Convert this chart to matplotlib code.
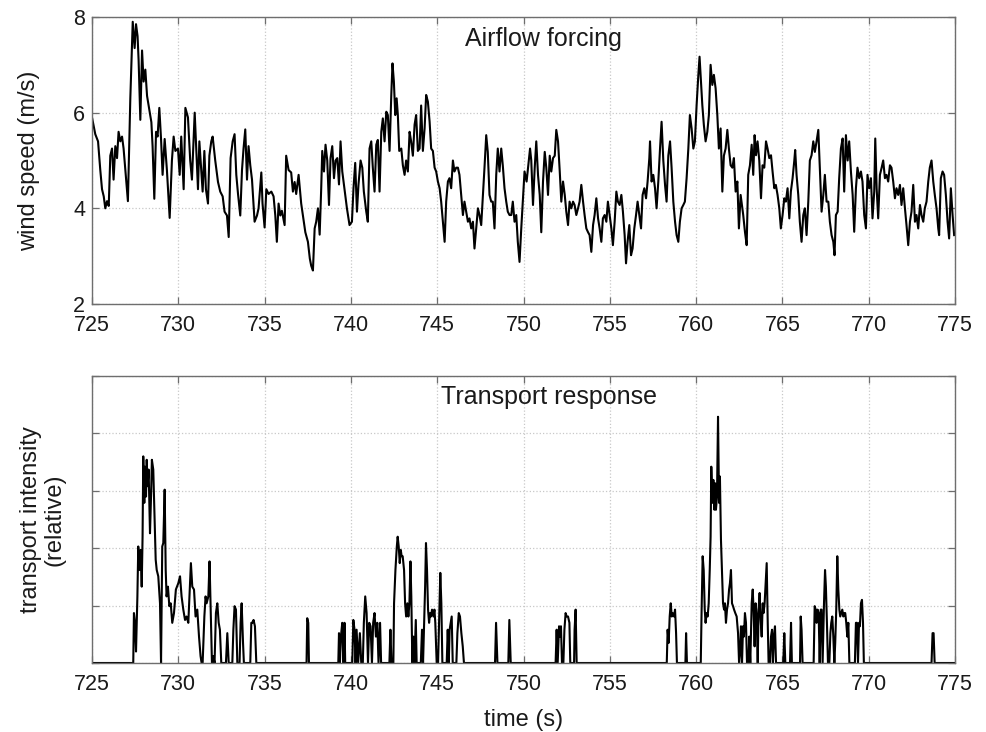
import matplotlib
matplotlib.use("Agg")
import matplotlib.pyplot as plt

plt.rcParams['font.family'] = ['Liberation Sans', 'DejaVu Sans']

# Wind speed record (time in s, speed in m/s)
wind_time = [
    725.00, 725.19, 725.35, 725.48, 725.58, 725.68, 725.77, 725.87, 725.97, 726.06,
    726.16, 726.25, 726.35, 726.45, 726.54, 726.64, 726.74, 726.83, 726.93, 727.08,
    727.22, 727.36, 727.47, 727.55, 727.64, 727.70, 727.80, 727.90, 727.99, 728.09,
    728.19, 728.28, 728.44, 728.51, 728.61, 728.71, 728.80, 728.90, 729.00, 729.09,
    729.21, 729.34, 729.50, 729.63, 729.73, 729.83, 729.98, 730.08, 730.17, 730.31,
    730.41, 730.56, 730.69, 730.79, 730.95, 731.04, 731.14, 731.22, 731.33, 731.41,
    731.51, 731.60, 731.72, 731.80, 731.91, 731.99, 732.14, 732.30, 732.43, 732.57,
    732.68, 732.82, 732.92, 733.03, 733.15, 733.26, 733.36, 733.46, 733.59, 733.69,
    733.78, 733.88, 733.98, 734.07, 734.17, 734.27, 734.42, 734.56, 734.65, 734.81,
    734.88, 735.00, 735.10, 735.23, 735.39, 735.52, 735.62, 735.71, 735.81, 735.91,
    736.00, 736.16, 736.25, 736.39, 736.54, 736.64, 736.74, 736.83, 736.97, 737.12,
    737.22, 737.36, 737.51, 737.62, 737.70, 737.80, 737.90, 737.99, 738.09, 738.19,
    738.28, 738.34, 738.44, 738.53, 738.63, 738.73, 738.82, 738.92, 739.02, 739.11,
    739.21, 739.31, 739.40, 739.50, 739.63, 739.77, 739.92, 740.06, 740.15, 740.25,
    740.35, 740.44, 740.56, 740.66, 740.75, 740.89, 740.98, 741.08, 741.18, 741.27,
    741.37, 741.47, 741.56, 741.66, 741.76, 741.85, 741.95, 742.05, 742.14, 742.24,
    742.34, 742.41, 742.49, 742.57, 742.65, 742.72, 742.80, 742.92, 743.01, 743.11,
    743.20, 743.30, 743.40, 743.49, 743.59, 743.69, 743.78, 743.88, 743.98, 744.07,
    744.17, 744.27, 744.36, 744.46, 744.56, 744.65, 744.75, 744.85, 744.94, 745.04,
    745.14, 745.23, 745.33, 745.43, 745.52, 745.62, 745.71, 745.81, 745.91, 746.00,
    746.10, 746.20, 746.29, 746.39, 746.49, 746.58, 746.68, 746.78, 746.87, 746.97,
    747.07, 747.16, 747.26, 747.36, 747.45, 747.55, 747.64, 747.74, 747.84, 747.93,
    748.03, 748.13, 748.22, 748.32, 748.42, 748.51, 748.61, 748.71, 748.80, 748.90,
    749.00, 749.09, 749.19, 749.29, 749.38, 749.48, 749.58, 749.67, 749.77, 749.87,
    749.96, 750.06, 750.18, 750.28, 750.38, 750.45, 750.55, 750.65, 750.74, 750.84,
    750.94, 751.03, 751.13, 751.23, 751.32, 751.42, 751.52, 751.61, 751.71, 751.81,
    751.90, 752.00, 752.10, 752.19, 752.29, 752.39, 752.48, 752.58, 752.67, 752.77,
    752.87, 752.96, 753.06, 753.16, 753.25, 753.35, 753.45, 753.54, 753.64, 753.74,
    753.83, 753.93, 754.03, 754.12, 754.22, 754.32, 754.41, 754.51, 754.60, 754.70,
    754.80, 754.89, 754.99, 755.09, 755.18, 755.28, 755.38, 755.47, 755.57, 755.67,
    755.76, 755.86, 755.94, 756.03, 756.13, 756.23, 756.32, 756.42, 756.52, 756.61,
    756.71, 756.81, 756.90, 757.00, 757.10, 757.19, 757.29, 757.33, 757.42, 757.52,
    757.62, 757.71, 757.81, 757.91, 758.00, 758.10, 758.20, 758.29, 758.39, 758.49,
    758.58, 758.68, 758.78, 758.87, 758.97, 759.06, 759.16, 759.26, 759.35, 759.45,
    759.55, 759.64, 759.74, 759.84, 759.93, 760.03, 760.13, 760.20, 760.28, 760.36,
    760.45, 760.55, 760.65, 760.74, 760.84, 760.94, 761.03, 761.13, 761.23, 761.32,
    761.42, 761.52, 761.61, 761.71, 761.81, 761.90, 762.00, 762.10, 762.19, 762.29,
    762.39, 762.48, 762.58, 762.68, 762.73, 762.83, 762.93, 763.02, 763.12, 763.22,
    763.31, 763.39, 763.47, 763.56, 763.66, 763.76, 763.85, 763.95, 764.05, 764.14,
    764.24, 764.34, 764.43, 764.53, 764.62, 764.72, 764.82, 764.91, 765.01, 765.11,
    765.20, 765.30, 765.40, 765.49, 765.59, 765.69, 765.74, 765.82, 765.92, 766.01,
    766.11, 766.21, 766.30, 766.40, 766.50, 766.59, 766.69, 766.79, 766.88, 766.98,
    767.08, 767.17, 767.27, 767.37, 767.46, 767.56, 767.66, 767.75, 767.85, 767.95,
    768.02, 768.10, 768.20, 768.29, 768.39, 768.49, 768.58, 768.68, 768.78, 768.87,
    768.97, 769.07, 769.16, 769.26, 769.35, 769.45, 769.55, 769.64, 769.74, 769.84,
    769.93, 770.03, 770.13, 770.22, 770.32, 770.38, 770.46, 770.55, 770.65, 770.75,
    770.84, 770.94, 771.03, 771.13, 771.23, 771.32, 771.42, 771.52, 771.61, 771.71,
    771.81, 771.90, 772.00, 772.10, 772.19, 772.29, 772.39, 772.48, 772.58, 772.68,
    772.77, 772.87, 772.97, 773.06, 773.16, 773.25, 773.35, 773.45, 773.54, 773.64,
    773.74, 773.83, 773.93, 774.03, 774.08, 774.18, 774.28, 774.37, 774.47, 774.57,
    774.66, 774.76, 774.86, 774.95,
]
wind_speed = [
    5.90, 5.55, 5.40, 4.80, 4.40, 4.25, 4.00, 4.15, 4.05, 5.10,
    5.25, 4.60, 5.30, 5.05, 5.60, 5.40, 5.50, 5.25, 4.80, 4.15,
    6.30, 7.90, 7.35, 7.85, 7.60, 7.10, 5.85, 7.30, 6.65, 6.90,
    6.35, 6.15, 5.80, 5.30, 4.20, 5.60, 5.50, 6.10, 5.45, 4.70,
    5.45, 4.80, 3.80, 5.00, 5.50, 5.20, 5.25, 4.70, 5.50, 4.40,
    6.10, 5.90, 5.00, 4.60, 6.00, 5.25, 4.40, 5.40, 4.80, 4.35,
    5.20, 4.40, 4.10, 5.10, 5.40, 5.50, 5.00, 4.55, 4.35, 4.25,
    3.93, 3.85, 3.40, 5.05, 5.40, 5.55, 4.70, 4.30, 3.85, 4.80,
    5.25, 5.65, 4.60, 5.30, 4.90, 4.60, 3.72, 3.85, 4.00, 4.75,
    4.10, 3.60, 4.40, 4.30, 4.35, 4.25, 3.85, 3.30, 4.10, 3.85,
    3.95, 3.65, 5.10, 4.80, 4.75, 4.35, 4.55, 4.30, 4.70, 4.10,
    3.85, 3.50, 3.30, 2.95, 2.80, 2.70, 3.58, 3.72, 4.00, 3.45,
    4.42, 5.20, 4.77, 5.33, 5.00, 4.07, 5.05, 5.30, 4.63, 5.00,
    5.05, 4.50, 5.40, 4.77, 4.40, 4.00, 3.65, 3.72, 4.42, 4.95,
    3.93, 4.50, 5.00, 4.85, 4.35, 3.93, 3.72, 5.25, 5.40, 4.85,
    4.35, 5.33, 5.43, 4.35, 5.60, 5.88, 5.40, 6.02, 5.95, 5.20,
    6.37, 7.03, 6.65, 5.95, 6.30, 5.95, 5.20, 5.25, 4.90, 4.70,
    5.00, 4.77, 5.60, 5.40, 5.10, 5.75, 5.95, 5.20, 5.25, 6.15,
    5.20, 5.67, 6.37, 6.23, 5.81, 5.25, 5.20, 4.85, 4.77, 4.56,
    4.42, 4.14, 3.72, 3.30, 4.14, 4.56, 4.63, 4.42, 5.00, 4.77,
    4.85, 4.85, 4.70, 4.28, 3.86, 4.14, 3.93, 3.72, 3.79, 3.58,
    3.72, 3.16, 3.58, 4.00, 3.86, 3.65, 4.20, 4.85, 5.53, 5.18,
    4.28, 4.14, 4.14, 3.58, 4.70, 5.25, 4.77, 5.25, 4.90, 4.42,
    4.14, 3.93, 3.86, 3.86, 4.14, 3.72, 3.86, 3.30, 2.88, 3.58,
    4.14, 4.77, 4.56, 4.90, 5.25, 5.00, 4.07, 4.85, 5.40, 4.70,
    4.28, 3.50, 4.56, 5.18, 4.85, 4.28, 5.10, 4.77, 5.05, 5.10,
    5.64, 5.40, 4.77, 4.14, 4.56, 4.28, 3.93, 3.65, 4.14, 4.00,
    4.14, 4.07, 3.86, 4.00, 4.14, 4.49, 4.14, 3.86, 3.58, 3.50,
    3.44, 3.09, 3.65, 3.86, 4.21, 3.79, 3.58, 3.30, 3.79, 3.86,
    3.72, 4.14, 3.86, 3.58, 3.23, 3.72, 4.35, 4.14, 4.07, 4.28,
    3.93, 3.44, 2.85, 3.30, 3.65, 3.02, 3.16, 3.58, 3.86, 4.14,
    3.86, 3.58, 4.28, 4.42, 4.21, 4.56, 5.05, 5.40, 4.56, 4.70,
    4.42, 4.00, 4.56, 5.25, 5.81, 5.00, 4.49, 4.14, 5.10, 5.40,
    4.85, 4.14, 3.72, 3.44, 3.30, 3.72, 4.00, 4.07, 4.14, 4.63,
    5.25, 5.95, 5.67, 5.25, 5.40, 6.16, 6.79, 7.17, 6.65, 6.16,
    5.74, 5.40, 5.60, 5.95, 7.00, 6.58, 6.79, 6.51, 5.95, 5.25,
    5.67, 4.35, 5.10, 5.25, 5.64, 5.25, 4.90, 4.85, 5.05, 4.35,
    4.56, 3.58, 4.28, 4.00, 3.86, 3.51, 3.23, 4.70, 4.90, 5.33,
    4.70, 5.53, 5.11, 5.40, 5.00, 4.21, 4.90, 4.85, 5.40, 5.25,
    5.05, 5.11, 4.77, 4.42, 4.49, 4.28, 4.00, 3.58, 3.86, 4.21,
    4.14, 4.42, 3.79, 4.35, 4.63, 5.00, 5.22, 4.70, 4.28, 3.72,
    3.30, 3.86, 4.00, 3.44, 4.14, 5.00, 5.11, 5.40, 5.18, 5.40,
    5.64, 4.85, 3.93, 4.28, 4.70, 4.14, 4.14, 3.72, 3.44, 3.30,
    3.02, 3.86, 3.93, 4.63, 5.25, 5.46, 4.35, 5.53, 5.00, 5.40,
    4.77, 4.28, 3.51, 4.42, 4.85, 4.63, 4.77, 4.56, 3.86, 3.58,
    4.70, 4.42, 4.63, 3.79, 4.35, 5.46, 4.42, 3.79, 4.70, 4.85,
    5.00, 4.63, 4.70, 4.56, 4.90, 4.85, 4.56, 4.21, 4.42, 4.28,
    4.49, 4.07, 4.42, 4.00, 3.65, 3.23, 3.72, 3.93, 4.49, 3.72,
    3.86, 3.58, 4.07, 3.86, 3.72, 4.00, 4.14, 4.56, 4.85, 5.00,
    4.56, 4.28, 4.00, 3.58, 3.44, 4.63, 4.77, 4.70, 4.28, 3.72,
    3.37, 4.42, 3.86, 3.44,
]

# Sand transport record (time in s, relative intensity)
transport_time = [
    725.00, 727.39, 727.43, 727.49, 727.55, 727.63, 727.68, 727.74, 727.82, 727.88,
    727.93, 727.97, 728.03, 728.07, 728.13, 728.17, 728.22, 728.28, 728.36, 728.42,
    728.47, 728.55, 728.61, 728.69, 728.75, 728.84, 728.94, 729.00, 729.07, 729.13,
    729.21, 729.27, 729.32, 729.40, 729.48, 729.56, 729.65, 729.75, 729.86, 730.00,
    730.10, 730.19, 730.29, 730.39, 730.48, 730.58, 730.68, 730.73, 730.81, 730.91,
    731.00, 731.10, 731.20, 731.29, 731.35, 731.41, 731.51, 731.58, 731.64, 731.74,
    731.81, 731.87, 731.95, 732.03, 732.10, 732.18, 732.26, 732.34, 732.41, 732.49,
    732.76, 732.84, 732.92, 733.13, 733.19, 733.26, 733.34, 733.42, 733.55, 733.61,
    733.67, 733.75, 733.80, 734.17, 734.23, 734.29, 734.36, 734.44, 734.52, 737.43,
    737.47, 737.53, 737.57, 739.27, 739.31, 739.36, 739.42, 739.50, 739.56, 739.59,
    739.63, 739.67, 740.08, 740.14, 740.21, 740.27, 740.33, 740.42, 740.52, 740.60,
    740.69, 740.75, 740.83, 740.91, 740.99, 741.06, 741.14, 741.22, 741.29, 741.37,
    741.45, 741.53, 741.60, 741.69, 741.75, 742.23, 742.29, 742.35, 742.46, 742.50,
    742.58, 742.66, 742.71, 742.77, 742.83, 742.89, 742.94, 743.00, 743.08, 743.14,
    743.20, 743.27, 743.33, 743.39, 743.45, 743.50, 743.56, 743.62, 743.68, 743.76,
    743.81, 744.05, 744.12, 744.18, 744.24, 744.30, 744.35, 744.41, 744.47, 744.53,
    744.59, 744.64, 744.70, 744.78, 744.84, 744.89, 744.97, 745.05, 745.13, 745.18,
    745.24, 745.30, 745.55, 745.61, 745.67, 745.72, 745.78, 745.84, 745.90, 746.11,
    746.17, 746.25, 746.32, 746.40, 746.48, 746.55, 748.35, 748.41, 748.49, 749.12,
    749.18, 749.26, 751.86, 751.92, 751.98, 752.06, 752.11, 752.17, 752.23, 752.31,
    752.37, 752.44, 752.50, 752.58, 752.66, 752.71, 752.93, 752.96, 753.02, 753.08,
    758.30, 758.35, 758.41, 758.47, 758.53, 758.59, 758.64, 758.72, 758.78, 758.84,
    758.89, 759.38, 759.42, 759.47, 760.27, 760.32, 760.38, 760.44, 760.50, 760.55,
    760.61, 760.67, 760.73, 760.79, 760.84, 760.88, 760.94, 761.00, 761.06, 761.11,
    761.15, 761.21, 761.27, 761.33, 761.38, 761.44, 761.50, 761.56, 761.62, 761.67,
    761.73, 761.79, 761.85, 761.91, 761.96, 762.02, 762.08, 762.14, 762.20, 762.27,
    762.35, 762.43, 762.49, 762.54, 762.60, 762.66, 762.72, 762.77, 762.83, 762.89,
    762.95, 763.03, 763.08, 763.14, 763.22, 763.28, 763.33, 763.39, 763.45, 763.51,
    763.57, 763.62, 763.68, 763.74, 763.80, 763.86, 763.91, 763.97, 764.03, 764.09,
    764.15, 764.20, 764.28, 764.34, 764.40, 764.45, 764.51, 764.57, 764.63, 765.05,
    765.11, 765.17, 765.44, 765.50, 765.55, 766.02, 766.06, 766.11, 766.17, 766.81,
    766.87, 766.93, 766.98, 767.04, 767.10, 767.16, 767.22, 767.27, 767.33, 767.41,
    767.47, 767.52, 767.58, 767.64, 767.72, 767.78, 767.83, 767.89, 767.95, 768.01,
    768.06, 768.12, 768.18, 768.24, 768.30, 768.35, 768.41, 768.47, 768.53, 768.59,
    768.64, 768.70, 768.76, 768.82, 768.88, 769.20, 769.26, 769.32, 769.38, 769.44,
    769.49, 769.55, 769.61, 769.67, 769.72, 773.64, 773.70, 773.76, 773.82, 775.00,
]
transport = [
    0.00, 0.00, 0.87, 0.70, 0.20, 1.16, 2.03, 1.62, 1.97, 1.33,
    2.20, 3.60, 2.79, 3.42, 2.90, 3.54, 3.08, 3.37, 2.26, 2.90,
    3.54, 3.37, 2.67, 1.80, 1.62, 1.51, 1.04, 0.00, 2.03, 2.09,
    3.02, 1.62, 1.16, 1.33, 0.99, 1.04, 0.70, 0.87, 1.28, 1.39,
    1.51, 1.16, 0.93, 0.75, 0.81, 0.70, 1.39, 1.74, 1.33, 1.28,
    0.81, 0.93, 0.46, 0.12, 0.00, 0.00, 0.81, 1.16, 1.04, 1.16,
    1.77, 1.04, 0.00, 0.12, 0.00, 0.87, 1.04, 0.70, 0.58, 0.00,
    0.00, 0.52, 0.00, 0.00, 0.58, 0.99, 0.93, 0.00, 0.00, 0.70,
    1.04, 0.35, 0.00, 0.00, 0.70, 0.70, 0.75, 0.64, 0.00, 0.00,
    0.78, 0.70, 0.00, 0.00, 0.52, 0.00, 0.46, 0.70, 0.00, 0.00,
    0.70, 0.00, 0.00, 0.75, 0.58, 0.00, 0.58, 0.00, 0.52, 0.00,
    0.00, 0.70, 1.16, 0.87, 0.00, 0.70, 0.64, 0.00, 0.70, 0.87,
    0.46, 0.70, 0.00, 0.70, 0.00, 0.00, 0.58, 0.00, 0.00, 1.04,
    1.62, 2.03, 2.20, 2.03, 1.74, 1.97, 1.86, 1.86, 1.62, 1.04,
    0.81, 1.04, 0.81, 1.04, 1.77, 1.16, 0.00, 0.46, 0.00, 0.75,
    0.00, 0.00, 0.58, 0.00, 0.70, 1.33, 2.09, 1.62, 0.93, 0.70,
    0.87, 0.81, 0.93, 0.81, 0.93, 0.70, 0.00, 0.00, 0.93, 1.57,
    1.04, 0.00, 0.00, 0.58, 0.00, 0.58, 0.70, 0.81, 0.00, 0.00,
    0.52, 0.87, 0.81, 0.52, 0.29, 0.00, 0.00, 0.70, 0.00, 0.00,
    0.75, 0.00, 0.00, 0.58, 0.00, 0.64, 0.46, 0.64, 0.00, 0.00,
    0.58, 0.87, 0.81, 0.81, 0.70, 0.00, 0.00, 0.58, 0.93, 0.00,
    0.00, 0.58, 0.35, 0.81, 1.04, 0.81, 0.87, 0.81, 0.93, 0.52,
    0.00, 0.00, 0.52, 0.00, 0.00, 0.93, 1.86, 1.62, 0.93, 0.70,
    0.87, 0.81, 1.04, 1.62, 2.20, 3.42, 2.79, 3.19, 2.67, 3.13,
    2.67, 2.90, 4.29, 2.79, 3.25, 2.15, 1.62, 1.04, 0.93, 1.04,
    0.70, 0.93, 1.04, 1.28, 1.39, 1.62, 1.04, 0.99, 0.93, 0.87,
    0.81, 0.52, 0.00, 0.17, 0.64, 0.00, 0.64, 0.46, 0.87, 0.70,
    0.00, 0.00, 0.46, 0.00, 1.04, 1.28, 0.93, 0.29, 1.04, 0.81,
    0.00, 0.93, 1.22, 0.75, 0.46, 1.04, 0.87, 1.04, 1.39, 1.74,
    0.70, 0.00, 0.00, 0.46, 0.58, 0.00, 0.46, 0.64, 0.00, 0.00,
    0.52, 0.00, 0.00, 0.70, 0.00, 0.00, 0.81, 0.58, 0.00, 0.00,
    0.99, 0.93, 0.70, 0.93, 0.87, 0.00, 0.93, 0.93, 0.00, 1.04,
    1.62, 1.33, 0.70, 0.00, 0.00, 0.52, 0.70, 0.81, 0.46, 0.00,
    0.35, 0.93, 1.86, 1.28, 0.93, 0.81, 0.87, 0.93, 0.81, 0.87,
    0.87, 0.70, 0.46, 0.70, 0.00, 0.00, 0.70, 0.70, 0.00, 0.70,
    0.64, 1.04, 1.10, 0.70, 0.00, 0.00, 0.52, 0.52, 0.00, 0.00,
]

x_ticks = [725, 730, 735, 740, 745, 750, 755, 760, 765, 770, 775]
wind_ticks = [2, 4, 6, 8]
transport_ticks = [0, 1, 2, 3, 4, 5]

W, H = 986, 732
fig = plt.figure(figsize=(W / 100, H / 100), dpi=100)
ax1 = fig.add_axes([92 / W, 1 - 304 / H, 863 / W, 287 / H])
ax2 = fig.add_axes([92 / W, 1 - 663 / H, 863 / W, 287 / H])

spine_col = '#6e6e6e'
text_col = '#1a1a1a'
grid_kw = dict(color='#c8c8c8', linestyle=':', linewidth=0.9)


def style(ax):
    ax.set_xlim(725, 775)
    ax.set_xticks(x_ticks)
    ax.grid(True, **grid_kw)
    ax.set_axisbelow(True)
    for s in ax.spines.values():
        s.set_color(spine_col)
        s.set_linewidth(1.0)
    ax.tick_params(direction='in', length=5, width=0.9, color=spine_col,
                   top=True, right=True, labelsize=15.5, labelcolor=text_col)
    ax.tick_params(axis='x', pad=8)
    ax.tick_params(axis='y', pad=5)


ax1.plot(wind_time, wind_speed, color='black', linewidth=1.5)
style(ax1)
ax1.set_ylim(2, 8)
ax1.set_yticks(wind_ticks)
ax1.set_ylabel('wind speed (m/s)', fontsize=17, color=text_col, labelpad=24)
ax1.text(0.523, 0.925, 'Airflow forcing', transform=ax1.transAxes,
         ha='center', va='center', fontsize=18, color=text_col)

ax2.plot(transport_time, transport, color='black', linewidth=1.5)
style(ax2)
ax2.set_ylim(0, 5)
ax2.set_yticks(transport_ticks)
ax2.set_yticklabels([])
ax2.set_ylabel('transport intensity\n(relative)', fontsize=17,
               color=text_col, labelpad=14, linespacing=1.1)
ax2.set_xlabel('time (s)', fontsize=17, color=text_col, labelpad=10)
ax2.text(0.53, 0.927, 'Transport response', transform=ax2.transAxes,
         ha='center', va='center', fontsize=18, color=text_col)

fig.savefig('out.png', dpi=100)
